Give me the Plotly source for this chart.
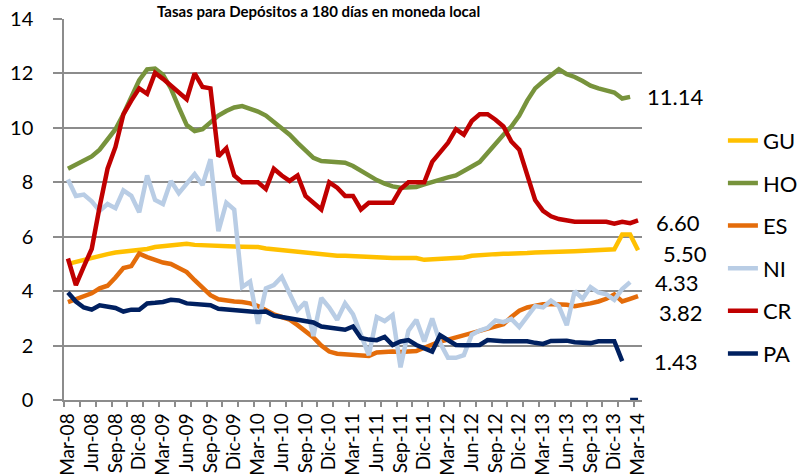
import plotly.graph_objects as go

# meses de Mar-08 a Mar-14
abrev = ["Ene", "Feb", "Mar", "Abr", "May", "Jun", "Jul", "Ago", "Sep", "Oct", "Nov", "Dic"]
meses = [f"{abrev[m]}-{a % 100:02d}" for a in range(2008, 2015) for m in range(12)][2:75]

# tasas (%), una por mes desde Mar-08
gu = [5.00, 5.08, 5.15, 5.24, 5.30, 5.36, 5.42, 5.45, 5.48, 5.50,
      5.55, 5.62, 5.65, 5.68, 5.72, 5.74, 5.70, 5.68, 5.67, 5.66,
      5.65, 5.64, 5.63, 5.63, 5.62, 5.57, 5.54, 5.50, 5.46, 5.43,
      5.42, 5.41, 5.38, 5.32, 5.30, 5.30, 5.28, 5.26, 5.26, 5.25,
      5.23, 5.22, 5.22, 5.22, 5.22, 5.15, 5.16, 5.17, 5.18, 5.20,
      5.24, 5.30, 5.33, 5.34, 5.36, 5.37, 5.37, 5.38, 5.40, 5.42,
      5.44, 5.44, 5.45, 5.46, 5.47, 5.48, 5.49, 5.50, 5.52, 5.54,
      6.08, 6.08, 5.50]
ho = [8.50, 8.65, 8.80, 8.95, 9.20, 9.55, 9.95, 10.50, 11.10, 11.75,
      12.15, 12.18, 11.95, 11.45, 10.75, 10.10, 9.88, 9.95, 10.20, 10.45,
      10.62, 10.75, 10.80, 10.72, 10.60, 10.45, 10.22, 10.02, 9.75, 9.45,
      9.15, 8.90, 8.78, 8.76, 8.74, 8.72, 8.60, 8.42, 8.25, 8.08,
      7.95, 7.85, 7.80, 7.80, 7.83, 7.92, 8.02, 8.12, 8.18, 8.25,
      8.40, 8.58, 8.75, 9.10, 9.45, 9.75, 10.05, 10.45, 11.00, 11.45,
      11.70, 11.95, 12.15, 11.97, 11.87, 11.72, 11.55, 11.45, 11.38, 11.30,
      11.08, 11.14]
es = [3.60, 3.72, 3.82, 3.92, 4.10, 4.20, 4.50, 4.85, 4.92, 5.38,
      5.25, 5.15, 5.05, 5.00, 4.85, 4.70, 4.40, 4.10, 3.85, 3.70,
      3.65, 3.62, 3.60, 3.55, 3.45, 3.30, 3.15, 3.05, 2.95, 2.75,
      2.55, 2.30, 2.00, 1.78, 1.70, 1.68, 1.65, 1.62, 1.62, 1.75,
      1.78, 1.78, 1.76, 1.76, 1.80, 1.92, 2.05, 2.15, 2.22, 2.30,
      2.35, 2.42, 2.50, 2.58, 2.68, 2.78, 3.05, 3.28, 3.40, 3.47,
      3.52, 3.53, 3.53, 3.50, 3.45, 3.48, 3.55, 3.62, 3.72, 3.88,
      3.62, 3.72, 3.82]
ni = [8.10, 7.50, 7.55, 7.30, 6.95, 7.20, 7.05, 7.70, 7.50, 6.90,
      8.25, 7.35, 7.20, 8.05, 7.60, 7.95, 8.30, 7.90, 8.85, 6.20,
      7.25, 7.00, 4.15, 4.35, 2.80, 4.10, 4.22, 4.52, 3.90, 3.30,
      3.60, 2.35, 3.75, 3.40, 2.95, 3.55, 3.15, 2.45, 1.65, 3.05,
      2.90, 3.12, 1.20, 2.55, 2.95, 2.15, 3.00, 2.10, 1.55, 1.55,
      1.65, 2.40, 2.55, 2.65, 2.92, 2.86, 2.98, 2.68, 3.05, 3.45,
      3.40, 3.65, 3.45, 2.75, 4.00, 3.72, 4.15, 3.95, 3.88, 3.68,
      4.08, 4.33]
cr = [5.20, 4.22, 4.90, 5.55, 7.10, 8.50, 9.30, 10.50, 11.00, 11.45,
      11.25, 12.02, 11.80, 11.55, 11.30, 11.05, 12.00, 11.50, 11.45, 8.95,
      9.25, 8.25, 8.00, 8.00, 8.00, 7.75, 8.50, 8.25, 8.05, 8.25,
      7.50, 7.25, 7.00, 8.00, 7.80, 7.50, 7.50, 7.00, 7.25, 7.25,
      7.25, 7.25, 7.75, 8.00, 8.00, 8.00, 8.75, 9.10, 9.45, 9.95,
      9.75, 10.25, 10.50, 10.50, 10.30, 10.05, 9.50, 9.20, 8.30, 7.35,
      6.95, 6.75, 6.65, 6.58, 6.55, 6.55, 6.55, 6.55, 6.55, 6.48,
      6.55, 6.50, 6.60]
pa = [3.95, 3.62, 3.40, 3.32, 3.48, 3.42, 3.38, 3.25, 3.32, 3.32,
      3.55, 3.57, 3.60, 3.68, 3.66, 3.55, 3.52, 3.50, 3.48, 3.35,
      3.32, 3.30, 3.28, 3.25, 3.23, 3.25, 3.10, 3.05, 3.00, 2.95,
      2.90, 2.85, 2.70, 2.67, 2.65, 2.58, 2.70, 2.28, 2.22, 2.20,
      2.32, 2.02, 2.15, 2.20, 2.02, 1.92, 1.78, 2.38, 2.20, 2.02,
      2.01, 2.01, 2.02, 2.20, 2.16, 2.16, 2.16, 2.16, 2.16, 2.10,
      2.06, 2.17, 2.18, 2.18, 2.12, 2.10, 2.09, 2.16, 2.16, 2.16,
      1.43]
pa_cierre = [0.0, 0.0]  # Feb-14, Mar-14

series = [
    ("GU", gu, "#FFC000"),
    ("HO", ho, "#77933C"),
    ("ES", es, "#E46C0A"),
    ("NI", ni, "#B9CDE5"),
    ("CR", cr, "#C00000"),
    ("PA", pa, "#002060"),
]

FONT = "Lato, Carlito, Calibri, sans-serif"
GRIS = "#8C8C8C"

fig = go.Figure()
for nombre, vals, color in series:
    fig.add_trace(go.Scatter(
        x=list(range(len(vals))), y=vals, name=nombre, mode="lines",
        line=dict(color=color, width=4.5), legendgroup=nombre,
    ))
fig.add_trace(go.Scatter(
    x=[len(meses) - 2, len(meses) - 1], y=pa_cierre, mode="lines",
    line=dict(color="#002060", width=4.5), showlegend=False,
))

# etiquetas del ultimo dato: (valor, posicion x en px, desplazamiento y)
etiquetas = [(ho[-1], 645, 0), (cr[-1], 654, -2), (gu[-1], 661, -3),
             (ni[-1], 653, 0), (es[-1], 657, -16), (pa[-1], 652, 0)]
for val, px, dy in etiquetas:
    fig.add_annotation(
        x=(px - 64) / 578, xref="paper", y=val, yref="y", yshift=dy,
        text=f"{val:.2f}", showarrow=False, xanchor="left",
        font=dict(family=FONT, size=22, color="#000000"),
    )

fig.add_annotation(
    x=(318 - 64) / 578, xref="paper", y=1, yref="paper", yanchor="bottom",
    yshift=-3, text="<b>Tasas para Depósitos a 180 días en moneda local</b>",
    showarrow=False, font=dict(family=FONT, size=15, color="#000000"),
)

fig.update_layout(
    width=803, height=476,
    margin=dict(l=64, r=161, t=19, b=76, autoexpand=False),
    paper_bgcolor="white", plot_bgcolor="white",
    font=dict(family=FONT, size=20, color="#000000"),
    showlegend=True,
    legend=dict(
        x=1.14, xanchor="left", y=0.736, yanchor="top",
        font=dict(family=FONT, size=22), tracegroupgap=11,
        traceorder="grouped", bgcolor="rgba(0,0,0,0)",
    ),
    xaxis=dict(
        range=[-0.5, len(meses) - 0.5], automargin=False,
        tickmode="array", tickvals=list(range(0, len(meses), 3)),
        ticktext=meses[::3], tickangle=-90, ticks="",
        ticklabelstandoff=4,
        showline=True, linecolor=GRIS, linewidth=1.5,
        showgrid=False, zeroline=False,
        minor=dict(ticks="outside", ticklen=5, tickcolor=GRIS, tickwidth=1.5,
                   tick0=-0.5, dtick=2, showgrid=False),
        tickfont=dict(family=FONT, size=19),
    ),
    yaxis=dict(
        range=[0, 14], tick0=0, dtick=2, automargin=False,
        showgrid=True, gridcolor=GRIS, gridwidth=1.5,
        showline=True, linecolor=GRIS, linewidth=1.5,
        ticks="outside", ticklen=9, tickcolor=GRIS, tickwidth=1.5,
        ticklabelstandoff=16, zeroline=False,
        tickfont=dict(family=FONT, size=20),
    ),
)

# sin el margen por defecto del body, la figura ocupa toda la ventana
fig.write_html("out.html", config={"displayModeBar": False},
               post_script="document.body.style.margin='0';document.body.style.overflow='hidden';")
